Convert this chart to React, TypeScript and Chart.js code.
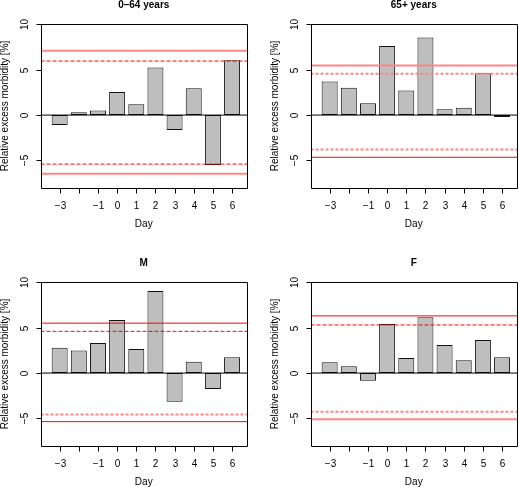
import React, { useEffect, useRef } from 'react';
import { Chart, registerables } from 'chart.js';

Chart.register(...registerables);

// ---------- data ----------
const days = [-3, -2, -1, 0, 1, 2, 3, 4, 5, 6];
const dayLabels = ['−3', '', '−1', '0', '1', '2', '3', '4', '5', '6'];
const yTicks = [10, 5, 0, -5];
const yTickLabels = ['10', '5', '0', '−5'];
const panelTitles = ['0–64 years', '65+ years', 'M', 'F'];
const xAxisTitle = 'Day';
const yAxisTitle = 'Relative excess morbidity [%]';

const age0to64 = [-1.1, 0.3, 0.5, 2.55, 1.2, 5.25, -1.65, 2.95, -5.5, 6.05];
const age65plus = [3.7, 3.0, 1.3, 7.6, 2.7, 8.55, 0.65, 0.8, 4.6, -0.2];
const male = [2.8, 2.5, 3.3, 5.85, 2.65, 9.05, -3.15, 1.25, -1.75, 1.75];
const female = [1.2, 0.75, -0.85, 5.4, 1.65, 6.15, 3.1, 1.4, 3.65, 1.75];

// upper solid, upper dashed, lower dashed, lower solid
const bounds0to64 = [7.1, 5.95, -5.4, -6.45];
const bounds65plus = [5.45, 4.55, -3.8, -4.65];
const boundsMale = [5.5, 4.6, -4.55, -5.35];
const boundsFemale = [6.3, 5.3, -4.25, -5.1];

// ---------- styling / layout ----------
const X_MIN = -4.0;
const X_MAX = 6.78;
const Y_MIN = -8;
const Y_MAX = 10;
const CW = 249;
const CH = 243;
const FONT = '"Liberation Sans", Arial, Helvetica, sans-serif';

type LineKind = 'light' | 'red';
const panelLineKinds: LineKind[][] = [
  ['light', 'red', 'red', 'light'],
  ['light', 'light', 'light', 'red'],
  ['red', 'red', 'light', 'red'],
  ['red', 'red', 'light', 'light'],
];
const panelOrigins = [
  [0, 0],
  [270, 0],
  [0, 258],
  [270, 258],
];

function lineStyle(kind: LineKind, dashed: boolean) {
  if (kind === 'light') {
    return {
      borderColor: '#ff8585',
      borderWidth: 2,
      borderDash: dashed ? [3, 2] : [],
    };
  }
  return {
    borderColor: '#ff0000',
    borderWidth: 1,
    borderDash: dashed ? [4, 2] : [],
  };
}

function makeAxesPlugin(title: string) {
  return {
    id: 'rAxes',
    afterDraw(chart: any) {
      const { ctx, chartArea: a, scales } = chart;
      const x = scales.x;
      const y = scales.y;
      ctx.save();
      ctx.strokeStyle = '#000';
      ctx.fillStyle = '#000';
      ctx.lineWidth = 1;
      const L = Math.round(a.left) + 0.5;
      const R = Math.round(a.right) + 0.5;
      const T = Math.round(a.top) + 0.5;
      const B = Math.round(a.bottom) + 0.5;
      ctx.beginPath();
      ctx.rect(L, T, R - L, B - T);
      ctx.stroke();

      // x ticks
      ctx.font = `10px ${FONT}`;
      ctx.textAlign = 'center';
      ctx.textBaseline = 'alphabetic';
      days.forEach((d, i) => {
        const px = Math.round(x.getPixelForValue(d)) + 0.5;
        ctx.beginPath();
        ctx.moveTo(px, B);
        ctx.lineTo(px, B + 5);
        ctx.stroke();
        if (dayLabels[i]) ctx.fillText(dayLabels[i], px, B + 20);
      });
      ctx.fillText(xAxisTitle, (a.left + a.right) / 2, B + 38);

      // y ticks
      ctx.textBaseline = 'middle';
      yTicks.forEach((v, i) => {
        const py = Math.round(y.getPixelForValue(v)) + 0.5;
        ctx.beginPath();
        ctx.moveTo(L - 5, py);
        ctx.lineTo(L, py);
        ctx.stroke();
        ctx.save();
        ctx.translate(25, py);
        ctx.rotate(-Math.PI / 2);
        ctx.fillText(yTickLabels[i], 0, 0);
        ctx.restore();
      });
      ctx.save();
      ctx.translate(5.5, (a.top + a.bottom) / 2);
      ctx.rotate(-Math.PI / 2);
      ctx.fillText(yAxisTitle, 0, 0);
      ctx.restore();

      // title
      ctx.textBaseline = 'alphabetic';
      ctx.font = `bold 10px ${FONT}`;
      ctx.fillText(title, (a.left + a.right) / 2, 7.5);
      ctx.restore();
    },
  };
}

function Panel(props: {
  title: string;
  values: number[];
  bounds: number[];
  kinds: LineKind[];
  left: number;
  top: number;
}) {
  const ref = useRef<HTMLCanvasElement | null>(null);
  useEffect(() => {
    if (!ref.current) return;
    const { title, values, bounds, kinds } = props;
    const lineSets = bounds.map((b, i) => ({
      type: 'line' as const,
      data: [
        { x: X_MIN, y: b },
        { x: X_MAX, y: b },
      ],
      pointRadius: 0,
      fill: false,
      order: 1,
      ...lineStyle(kinds[i], i === 1 || i === 2),
    }));
    const chart = new Chart(ref.current, {
      type: 'bar',
      data: {
        datasets: [
          {
            type: 'bar',
            data: days.map((d, i) => ({ x: d, y: values[i] })),
            backgroundColor: '#bebebe',
            borderColor: '#111',
            borderWidth: 1,
            borderSkipped: false,
            barPercentage: 0.835,
            categoryPercentage: 1,
            order: 10,
          } as any,
          ...lineSets,
          {
            type: 'line',
            data: [
              { x: X_MIN, y: 0 },
              { x: X_MAX, y: 0 },
            ],
            borderColor: '#000',
            borderWidth: 1,
            pointRadius: 0,
            fill: false,
            order: 0,
          } as any,
        ],
      },
      options: {
        responsive: false,
        animation: false,
        events: [],
        layout: { padding: { left: 40.5, top: 24.3, right: 2, bottom: 55.3 } },
        scales: {
          x: { type: 'linear', min: X_MIN, max: X_MAX, offset: false, display: false },
          y: { type: 'linear', min: Y_MIN, max: Y_MAX, display: false },
        },
        plugins: {
          legend: { display: false },
          tooltip: { enabled: false },
          title: { display: false },
        },
      },
      plugins: [makeAxesPlugin(title)],
    } as any);
    return () => chart.destroy();
  }, []);
  return (
    <canvas
      ref={ref}
      width={CW}
      height={CH}
      style={{ position: 'absolute', left: props.left, top: props.top, width: CW, height: CH }}
    />
  );
}

export default function App() {
  const values = [age0to64, age65plus, male, female];
  const bounds = [bounds0to64, bounds65plus, boundsMale, boundsFemale];
  return (
    <div
      style={{
        position: 'absolute',
        left: 0,
        top: 0,
        width: 519,
        height: 487,
        background: '#fff',
        overflow: 'hidden',
      }}
    >
      {panelTitles.map((t, i) => (
        <Panel
          key={t}
          title={t}
          values={values[i]}
          bounds={bounds[i]}
          kinds={panelLineKinds[i]}
          left={panelOrigins[i][0]}
          top={panelOrigins[i][1]}
        />
      ))}
    </div>
  );
}
